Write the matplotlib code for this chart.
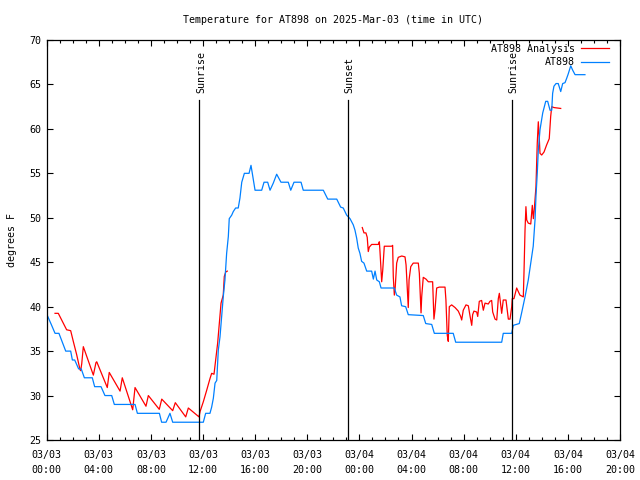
import numpy as np
import matplotlib
matplotlib.use("Agg")
import matplotlib.pyplot as plt
from matplotlib.ticker import MultipleLocator

# ---- data (hours since 2025-03-03 00:00 UTC, degrees F) ----
obs_hours = [0.05, 0.35, 0.64, 0.94, 1.20, 1.46, 1.84, 1.97, 2.15, 2.45, 2.65, 2.89, 3.50, 3.68,
             4.17, 4.47, 4.99, 5.19, 6.78, 6.96, 8.65, 8.82, 9.16, 9.46, 9.67, 12.02, 12.20, 12.53,
             12.66, 12.79, 12.92, 13.05, 13.17, 13.30, 13.43, 13.55, 13.68, 13.81, 13.94, 14.01,
             14.20, 14.32, 14.50, 14.70, 14.83, 14.97, 15.17, 15.53, 15.68, 15.78, 15.99, 16.50,
             16.68, 16.96, 17.14, 17.39, 17.65, 17.98, 18.54, 18.73, 18.98, 19.52, 19.69, 21.23,
             21.57, 22.26, 22.56, 22.76, 23.02, 23.28, 23.53, 23.66, 23.79, 23.91, 24.04, 24.17,
             24.35, 24.56, 24.94, 25.07, 25.20, 25.33, 25.53, 25.66, 26.68, 26.86, 27.11, 27.24,
             27.55, 27.75, 28.90, 29.09, 29.55, 29.75, 31.20, 31.39, 34.92, 35.04, 35.69, 35.81,
             36.27, 36.45, 36.71, 36.96, 37.15, 37.34, 37.48, 37.55, 37.65, 37.73, 37.86, 38.07,
             38.30, 38.45, 38.63, 38.76, 38.83, 38.93, 39.09, 39.26, 39.45, 39.60, 39.78, 39.91,
             40.03, 40.22, 40.37, 40.55, 41.31]
obs_temp = [39, 38, 37, 37, 36, 35, 35, 34, 34, 33, 33, 32, 32, 31,
            31, 30, 30, 29, 29, 28, 28, 27, 27, 28, 27, 27, 28, 28,
            28.7, 29.7, 31.4, 31.7, 35.1, 36.6, 38.9, 41.1, 43, 46, 47.9, 49.9,
            50.3, 50.7, 51.1, 51.1, 52.2, 54, 55, 55, 55.9, 55, 53.1, 53.1,
            54, 54, 53.1, 53.9, 54.9, 54, 54, 53.1, 54, 54, 53.1, 53.1,
            52.1, 52.1, 51.2, 51.1, 50.3, 49.9, 49.2, 48.6, 47.7, 46.6, 46, 45.1,
            44.9, 44, 44, 43.1, 44, 43, 42.8, 42.1, 42.1, 41.3, 41.1, 40.1,
            40, 39.1, 39, 38.1, 38, 37, 37, 36, 36, 37, 37, 37.9,
            38.1, 39.3, 41.1, 43, 44.9, 46.8, 49.8, 52.4, 55, 57.6, 59.9, 61.8,
            63.1, 63.1, 62.1, 62.1, 64, 64.8, 65.1, 65.1, 64.2, 65.1, 65.2, 65.7,
            66.2, 67.1, 66.6, 66.1, 66.1]

ana_hours = [0.64, 0.89, 1.15, 1.53, 1.84, 2.04, 2.30, 2.56, 2.61, 2.69, 2.81, 3.58, 3.78, 3.84,
             4.65, 4.80, 5.63, 5.80, 6.60, 6.78, 7.62, 7.80, 8.64, 8.83, 9.67, 9.87, 10.67, 10.87,
             11.69, 11.77, 12.02, 12.28, 12.53, 12.66, 12.84, 12.97, 13.12, 13.25, 13.38, 13.55,
             13.63, 13.74, 13.86,
             np.nan,
             24.22, 24.35, 24.50, 24.60, 24.68, 24.76, 24.94, 25.45, 25.53, 25.58, 25.66, 25.71,
             25.79, 25.91, 26.48, 26.55, 26.60, 26.68, 26.75, 26.86, 26.98, 27.25, 27.50, 27.58,
             27.75, 27.81, 27.94, 28.13, 28.52, 28.60, 28.73, 28.78, 28.90, 29.11, 29.29, 29.62,
             29.72, 29.80, 29.93, 30.13, 30.57, 30.64, 30.74, 30.82, 30.90, 31.08, 31.34, 31.59,
             31.77, 31.85, 31.97, 32.18, 32.36, 32.49, 32.62, 32.69, 32.79, 33.00, 33.08, 33.20,
             33.38, 33.51, 33.64, 33.89, 34.02, 34.15, 34.23, 34.41, 34.54, 34.66, 34.74, 34.79,
             34.92, 35.04, 35.25, 35.43, 35.56, 35.69, 35.73, 35.86, 36.07, 36.32, 36.58, 36.63,
             36.71, 36.78, 36.84, 36.96, 37.15, 37.27, 37.35, 37.42, 37.55, 37.65, 37.73, 37.80,
             37.86, 37.99, 38.17, 38.37, 38.57, 38.68, 38.76, 38.93, 39.45]
ana_temp = [39.25, 39.25, 38.5, 37.4, 37.3, 36.1, 34.6, 32.9, 32.8, 33.6, 35.5, 32.3, 33.7, 33.8,
            30.9, 32.6, 30.5, 32.0, 28.4, 30.9, 28.8, 30.0, 28.45, 29.6, 28.3, 29.2, 27.6, 28.6,
            27.6, 28.2, 29.3, 30.6, 31.9, 32.5, 32.4, 34.0, 35.9, 38.1, 40.4, 41.3,
            43.4, 43.9, 44.0,
            np.nan,
            48.9, 48.3, 48.3, 47.8, 46.2, 46.7, 47.0, 47.0, 47.3, 46.2, 44.0, 42.8,
            44.1, 46.8, 46.8, 46.9, 43.4, 41.3, 42.2, 44.9, 45.55, 45.7, 45.6, 44.7,
            39.9, 43.0, 44.5, 44.9, 44.9, 43.75, 39.3, 41.1, 43.3, 43.1, 42.8, 42.8,
            38.6, 39.6, 42.1, 42.2, 42.2, 40.75, 36.8, 36.1, 40.0, 40.2, 39.9, 39.5,
            38.9, 38.5, 39.6, 40.2, 40.1, 38.95, 37.9, 39.1, 39.5, 39.4, 38.9, 40.6,
            40.7, 39.6, 40.4, 40.3, 40.6, 40.7, 39.4, 38.6, 38.5, 40.9, 41.5, 40.9,
            39.25, 40.75, 40.75, 38.6, 38.6, 40.0, 40.9, 40.9, 42.1, 41.3, 41.1, 43.75,
            48.6, 51.25, 49.75, 49.4, 49.3, 51.4, 49.9, 50.9, 53.5, 58.4, 60.8, 59.1,
            57.25, 57.06, 57.4, 58.2, 58.9, 61.4, 62.5, 62.4, 62.3]

sun_event_hours = [11.72, 23.12, 35.72]
sun_event_labels = ["Sunrise", "Sunset", "Sunrise"]

xtick_hours = [0, 4, 8, 12, 16, 20, 24, 28, 32, 36, 40, 44]
xtick_labels = ["03/03\n00:00", "03/03\n04:00", "03/03\n08:00", "03/03\n12:00",
                "03/03\n16:00", "03/03\n20:00", "03/04\n00:00", "03/04\n04:00",
                "03/04\n08:00", "03/04\n12:00", "03/04\n16:00", "03/04\n20:00"]
yticks = [25, 30, 35, 40, 45, 50, 55, 60, 65, 70]

title = "Temperature for AT898 on 2025-Mar-03 (time in UTC)"

# ---- figure ----
FONT = "DejaVu Sans Mono"
FS = 7.2
plt.rcParams["font.family"] = FONT
plt.rcParams["font.size"] = FS

fig = plt.figure(figsize=(6.4, 4.8), dpi=100)
ax = fig.add_axes([46.7 / 640, 1 - 440 / 480, (620 - 46.7) / 640, 400 / 480])

red = "#ff0000"
blue = "#0080ff"

ax.plot(ana_hours, ana_temp, color=red, lw=0.9, label="AT898 Analysis")
ax.plot(obs_hours, obs_temp, color=blue, lw=0.9, label="AT898")

for h, lab in zip(sun_event_hours, sun_event_labels):
    ax.plot([h, h], [25, 63.25], color="black", lw=0.9)
    ax.text(h + 0.12, 64.0, lab, rotation=90, ha="center", va="bottom", fontsize=FS)

ax.set_xlim(0, 44)
ax.set_ylim(25, 70)
ax.set_xticks(xtick_hours)
ax.set_xticklabels(xtick_labels, linespacing=1.65)
ax.xaxis.set_minor_locator(MultipleLocator(1))
ax.set_yticks(yticks)
ax.tick_params(axis="both", which="major", direction="in", length=4, width=0.8,
               top=True, right=True, labelsize=FS)
ax.tick_params(axis="x", which="major", pad=7)
ax.tick_params(axis="y", which="major", pad=4)
ax.tick_params(axis="x", which="minor", direction="in", length=2, width=0.8, top=True)
for s in ax.spines.values():
    s.set_linewidth(0.9)

ax.set_ylabel("degrees F", fontsize=FS, labelpad=9)
fig.text(333.4 / 640, 1 - 20 / 480, title, ha="center", va="center", fontsize=FS)

leg = ax.legend(loc="upper right", bbox_to_anchor=(1 - 7 / 573, 1.0), frameon=False,
                markerfirst=False, fontsize=FS,
                handlelength=2.8, handletextpad=0.6, labelspacing=0.35,
                borderaxespad=0.2, borderpad=0.2)

fig.savefig("out.png", dpi=100)
